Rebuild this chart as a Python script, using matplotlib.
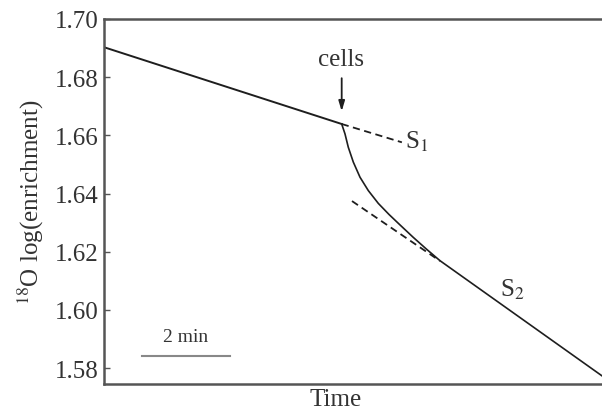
import matplotlib
matplotlib.use("Agg")
import matplotlib.pyplot as plt

plt.rcParams["font.family"] = ["Liberation Serif", "DejaVu Serif"]
plt.rcParams["mathtext.fontset"] = "stix"

# time in minutes, 18O log(enrichment)
t_before = [0.0, 5.402]
y_before = [1.6903, 1.6639]

t_after = [5.402, 5.477, 5.552, 5.666, 5.818, 6.007, 6.234, 6.477, 6.727,
           7.030, 7.334, 7.636, 11.318]
y_after = [1.6639, 1.6605, 1.6559, 1.6508, 1.6456, 1.6410, 1.6366, 1.6328,
           1.6292, 1.6249, 1.6208, 1.6169, 1.5773]

# extrapolated slopes
t_s1 = [5.402, 6.77]
y_s1 = [1.6639, 1.6576]
t_s2 = [5.636, 7.636]
y_s2 = [1.6374, 1.6168]

y_ticks = [1.58, 1.60, 1.62, 1.64, 1.66, 1.68, 1.70]
scale_bar = [0.864, 2.864]

fig = plt.figure(figsize=(6.02, 4.14), dpi=100)
ax = fig.add_axes([104 / 602, 29 / 414, 498 / 602, 365 / 414])

line_col = "#1e1e1e"
ax.plot(t_before, y_before, color=line_col, lw=1.4)
ax.plot(t_after, y_after, color=line_col, lw=1.2)
ax.plot(t_s1, y_s1, color=line_col, lw=1.3, ls=(0, (4, 2.5)))
ax.plot(t_s2, y_s2, color=line_col, lw=1.3, ls=(0, (4, 2.5)))

ax.set_xlim(0, 11.318)
ax.set_ylim(1.5745, 1.70)
ax.set_yticks(y_ticks)
ax.set_yticklabels([f"{v:.2f}" for v in y_ticks])
ax.set_xticks([])
ax.tick_params(axis="y", direction="in", length=4, width=1, pad=4,
               labelsize=18, color="#555555", labelcolor="#333333")

for side in ["left", "bottom", "top"]:
    ax.spines[side].set_color("#555555")
    ax.spines[side].set_linewidth(1.8)
ax.spines["right"].set_visible(False)

ax.set_ylabel("$^{18}$O log(enrichment)", fontsize=18, color="#333333",
              labelpad=6)
fig.text(336 / 602, 14 / 414, "Time", fontsize=18, color="#333333",
         ha="center", va="center")

# injection arrow and labels
ax.annotate("", xy=(5.402, 1.6673), xytext=(5.402, 1.6806),
            arrowprops=dict(arrowstyle="-|>,head_length=0.6,head_width=0.18",
                            color=line_col, lw=1.3))
ax.text(5.375, 1.6862, "cells", fontsize=18, color="#333333",
        ha="center", va="center")
ax.text(6.84, 1.6582, "S$_1$", fontsize=18, color="#333333",
        ha="left", va="center")
ax.text(9.0, 1.6072, "S$_2$", fontsize=18, color="#333333",
        ha="left", va="center")

# 2 min scale bar
ax.plot(scale_bar, [1.5841, 1.5841], color="#888888", lw=1.5)
ax.text(sum(scale_bar) / 2, 1.5910, "2 min", fontsize=14, color="#333333",
        ha="center", va="center")

fig.savefig("out.png", dpi=100)
